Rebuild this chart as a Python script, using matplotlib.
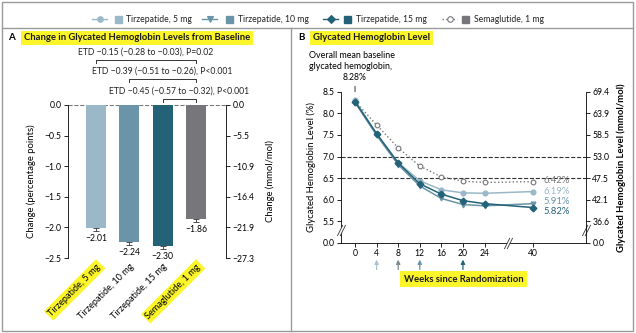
import numpy as np
import matplotlib
matplotlib.use("Agg")
import matplotlib.pyplot as plt
from matplotlib.lines import Line2D
from matplotlib.patches import Rectangle
from matplotlib.path import Path

plt.rcParams['font.family'] = ['Lato', 'DejaVu Sans']
plt.rcParams['font.size'] = 6.2

######################################################################
# data
groups = ["Tirzepatide, 5 mg", "Tirzepatide, 10 mg",
          "Tirzepatide, 15 mg", "Semaglutide, 1 mg"]
colors = ["#9bb8c8", "#6a95a9", "#246277", "#77777b"]
markers = ["o", "v", "D", "o"]

# panel A: change from baseline
change_pct = [-2.01, -2.24, -2.30, -1.86]
change_err = [0.05, 0.05, 0.05, 0.05]
pct_ticks = [0.0, -0.5, -1.0, -1.5, -2.0, -2.5]
mmol_change_labels = ["0.0", "\u22125.5", "\u221210.9", "\u221216.4",
                      "\u221221.9", "\u221227.3"]
etd_text = ["ETD \u22120.15 (\u22120.28 to \u22120.03), P=0.02",
            "ETD \u22120.39 (\u22120.51 to \u22120.26), P<0.001",
            "ETD \u22120.45 (\u22120.57 to \u22120.32), P<0.001"]
etd_pairs = [(0, 3), (1, 3), (2, 3)]

# panel B: level over time
weeks = [0, 4, 8, 12, 16, 20, 24, 40]
hba1c_5mg = [8.30, 7.52, 6.86, 6.44, 6.23, 6.16, 6.15, 6.19]
hba1c_10mg = [8.25, 7.49, 6.81, 6.32, 6.03, 5.89, 5.86, 5.91]
hba1c_15mg = [8.27, 7.53, 6.85, 6.37, 6.13, 5.98, 5.91, 5.82]
hba1c_sema = [8.28, 7.73, 7.20, 6.78, 6.53, 6.43, 6.40, 6.42]
final_labels = ["6.19%", "5.91%", "5.82%", "6.42%"]
level_ticks = [5.5, 6.0, 6.5, 7.0, 7.5, 8.0, 8.5]
level_mmol_labels = ["36.6", "42.1", "47.5", "53.0", "58.5", "63.9", "69.4"]
target_levels = [7.0, 6.5]
escalation_weeks = [4, 8, 12, 20]
escalation_colors = ["#a9c3d0", "#7d8a90", "#6a95a9", "#246277"]

YELLOW = "#fbf52a"
W, H = 636, 333


def fx(x):
    return x / W


def fy(y):
    return 1 - y / H


def week_pos(w):
    # x axis is broken between 24 and 40
    return w if w <= 24 else 24 + (w - 24) * 9 / 16


fig = plt.figure(figsize=(W / 100, H / 100), dpi=100)

# frame lines
frame_kw = dict(color="#9a9a9a", lw=1.0, transform=fig.transFigure)
fig.add_artist(Rectangle((fx(2), fy(331)), fx(631), (329) / H, fill=False,
                         edgecolor="#9a9a9a", lw=1.0, transform=fig.transFigure))
fig.add_artist(Line2D([fx(2), fx(633)], [fy(28), fy(28)], **frame_kw))
fig.add_artist(Line2D([fx(291), fx(291)], [fy(28), fy(331)], **frame_kw))

######################################################################
# legend row
leg_items = [(92, 115, 126), (202, 226, 238), (323, 344, 356), (442, 462, 474)]
for i, (lx, sx, tx) in enumerate(leg_items):
    ls = ":" if i == 3 else "-"
    mfc = "white" if i == 3 else colors[i]
    fig.add_artist(Line2D([fx(lx), fx(lx + 15)], [fy(19), fy(19)], ls=ls,
                          color=colors[i], lw=1.0, transform=fig.transFigure))
    fig.add_artist(Line2D([fx(lx + 7.5)], [fy(19)], marker=markers[i], ms=4,
                          mfc=mfc, mec=colors[i], mew=0.8, ls="none",
                          transform=fig.transFigure))
    fig.add_artist(Rectangle((fx(sx), fy(23)), fx(7), 7 / H, color=colors[i],
                             transform=fig.transFigure))
    fig.text(fx(tx), fy(19), groups[i], va="center", ha="left", color="#222222")

######################################################################
# panel A
axA = fig.add_axes([fx(68), fy(258), fx(226 - 68), (258 - 105) / H])
x = np.arange(len(groups))
axA.bar(x, change_pct, width=0.6, color=colors, zorder=2)
axA.errorbar(x, change_pct, yerr=[change_err, [0] * 4], fmt="none",
             ecolor="#333333", elinewidth=0.6, capsize=2.5, capthick=0.6)
for xi, v, e in zip(x, change_pct, change_err):
    axA.annotate(f"{v:.2f}".replace("-", "\u2212"), (xi, v - e),
                 xytext=(0, -2), textcoords="offset points",
                 ha="center", va="top")
axA.axhline(0, ls="--", color="#777777", lw=0.8, zorder=1)
axA.set_ylim(-2.5, 0)
axA.set_xlim(-0.84, 3.9)
axA.set_yticks(pct_ticks)
axA.set_yticklabels([f"{t:.1f}".replace("-", "\u2212") for t in pct_ticks])
axA.set_xticks(x)
axA.set_xticklabels(groups, rotation=45, ha="right", rotation_mode="anchor",
                    fontsize=6.6)
axA.tick_params(axis="x", length=0, pad=3)
axA.tick_params(axis="y", length=3, width=0.6, pad=1.5)
for s in ["top", "bottom"]:
    axA.spines[s].set_visible(False)
axA.spines["left"].set_linewidth(0.6)
axA.spines["right"].set_visible(False)
axA.set_ylabel("Change (percentage points)", labelpad=6, fontsize=6.8)
for i in (0, 3):
    axA.get_xticklabels()[i].set_bbox(dict(facecolor=YELLOW, edgecolor="none",
                                           pad=1.5))

axA2 = axA.twinx()
axA2.set_ylim(-2.5, 0)
axA2.set_yticks(pct_ticks)
axA2.set_yticklabels(mmol_change_labels)
axA2.tick_params(axis="y", length=3, width=0.6, pad=1.5)
for s in ["top", "bottom", "left"]:
    axA2.spines[s].set_visible(False)
axA2.spines["right"].set_linewidth(0.6)
axA2.set_ylabel("Change (mmol/mol)", labelpad=8, fontsize=6.8)

# ETD brackets
bracket_y = [0.735, 0.425, 0.098]
for (a, b), txt, by in zip(etd_pairs, etd_text, bracket_y):
    axA.plot([a, a, b, b], [by - 0.05, by, by, by - 0.05], color="#333333",
             lw=0.7, clip_on=False)
    axA.text((a + b) / 2, by + 0.06, txt, ha="center", va="bottom",
             color="#222222")

fig.text(fx(8), fy(38), "A", fontweight="bold", va="center", fontsize=7)
fig.text(fx(24), fy(38), "Change in Glycated Hemoglobin Levels from Baseline",
         fontweight="bold", va="center", color="#1a1a1a", fontsize=6.8,
         bbox=dict(facecolor=YELLOW, edgecolor="none", pad=2))

######################################################################
# panel B
axB = fig.add_axes([fx(341), fy(243), fx(586 - 341), (243 - 91.7) / H])
xpos = [week_pos(w) for w in weeks]
series = [hba1c_5mg, hba1c_10mg, hba1c_15mg, hba1c_sema]
for i, vals in enumerate(series):
    if i == 3:
        axB.plot(xpos, vals, ls=":", color=colors[i], lw=1.0, marker="o",
                 ms=3.4, mfc="white", mec=colors[i], mew=0.8, zorder=3)
    else:
        axB.plot(xpos, vals, ls="-", color=colors[i], lw=1.1,
                 marker=markers[i], ms=3.4, mfc=colors[i], mec=colors[i],
                 zorder=4)
for lvl in target_levels:
    axB.axhline(lvl, ls="--", color="#333333", lw=0.8, zorder=1)

label_y = [6.20, 5.95, 5.74, 6.44]
for i, (lab, ly) in enumerate(zip(final_labels, label_y)):
    axB.text(week_pos(40) + 2.0, ly, lab, color=colors[i], va="center",
             ha="left", fontsize=6.8)

axB.set_xlim(-2.6, 42.8)
axB.set_ylim(5.0, 8.5)
axB.set_xticks(xpos)
axB.set_xticklabels([str(w) for w in weeks])
axB.set_yticks([5.0] + level_ticks)
axB.set_yticklabels(["0.0"] + [f"{t:.1f}" for t in level_ticks])
axB.tick_params(length=3, width=0.6, pad=1.5)
axB.spines["top"].set_visible(False)
axB.spines["right"].set_visible(False)
for s in ["left", "bottom"]:
    axB.spines[s].set_linewidth(0.6)
axB.set_ylabel("Glycated Hemoglobin Level (%)", labelpad=5, fontsize=6.8)
axB.set_xlabel("Weeks since Randomization", fontweight="bold", labelpad=12,
               color="#1a1a1a", fontsize=6.8,
               bbox=dict(facecolor=YELLOW, edgecolor="none", pad=2.5))

axB2 = axB.twinx()
axB2.set_ylim(5.0, 8.5)
axB2.set_yticks([5.0] + level_ticks)
axB2.set_yticklabels(["0.0"] + level_mmol_labels)
axB2.tick_params(length=3, width=0.6, pad=1.5)
for s in ["top", "bottom", "left"]:
    axB2.spines[s].set_visible(False)
axB2.spines["right"].set_linewidth(0.6)
axB2.set_ylabel("Glycated Hemoglobin Level (mmol/mol)", fontweight="bold",
                labelpad=5, fontsize=6.8)

# axis breaks
gap = Path([(-1.5, -2), (0.5, 2), (1.5, 2), (-0.5, -2), (-1.5, -2)])
slash = Path([(-1.5, -2), (0.5, 2), (-0.5, -2), (1.5, 2)],
             [Path.MOVETO, Path.LINETO, Path.MOVETO, Path.LINETO])
for bx, by in [(-2.6, 5.3), (42.8, 5.3), (28.3, 5.0)]:
    axB.plot([bx], [by], marker=gap, ms=8, mfc="white", mec="none",
             clip_on=False, zorder=10)
    axB.plot([bx], [by], marker=slash, ms=8, mfc="none", mec="#333333",
             mew=0.6, clip_on=False, zorder=11)

# dose-escalation arrows
for w, c in zip(escalation_weeks, escalation_colors):
    axB.annotate("", xy=(week_pos(w), -0.11), xytext=(week_pos(w), -0.175),
                 xycoords=("data", "axes fraction"),
                 arrowprops=dict(arrowstyle="-|>", color=c, lw=0.9,
                                 mutation_scale=6, shrinkA=0, shrinkB=0))

# baseline annotation
axB.annotate("8.28%", xy=(0, 8.5), xytext=(0, 8.72), ha="center", va="bottom",
             arrowprops=dict(arrowstyle="-", color="#333333", lw=0.7,
                             shrinkA=1, shrinkB=0),
             annotation_clip=False)
fig.text(fx(309), fy(61), "Overall mean baseline\nglycated hemoglobin,",
         ha="left", va="center", linespacing=1.3, fontsize=6.4)

fig.text(fx(298), fy(38), "B", fontweight="bold", va="center", fontsize=7)
fig.text(fx(313), fy(38), "Glycated Hemoglobin Level", fontweight="bold",
         va="center", color="#1a1a1a", fontsize=6.8,
         bbox=dict(facecolor=YELLOW, edgecolor="none", pad=2))

fig.savefig("out.png", dpi=100)
